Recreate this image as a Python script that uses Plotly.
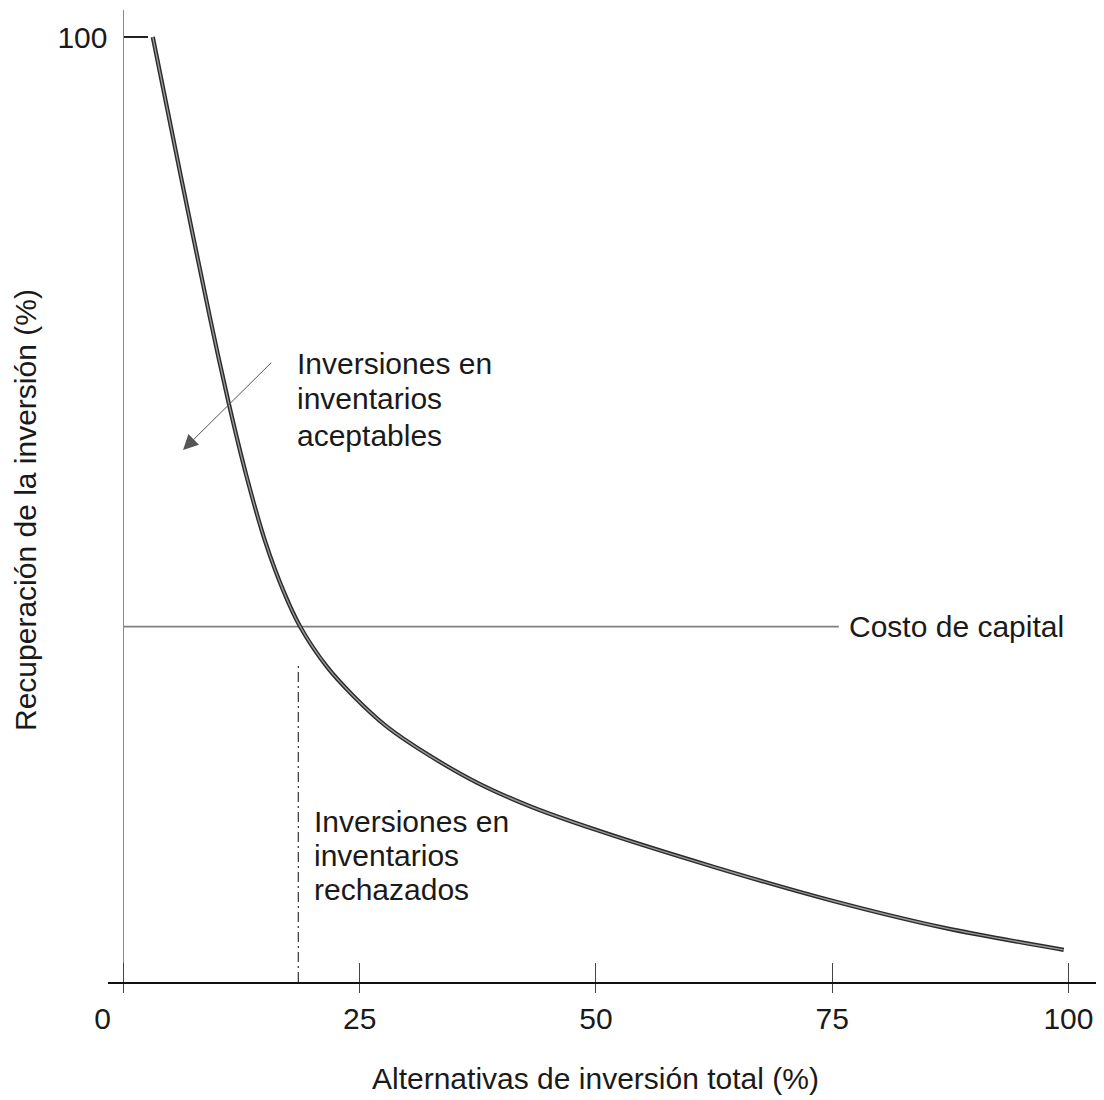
import plotly.graph_objects as go

# ---- data ----
curve_x = [3.1, 6.0, 9.15, 11.1, 13.0, 15.0, 17.0, 18.7, 21.5, 24.3, 27.9, 32.0, 37.4, 43.0, 50.0, 62.4, 75.0, 87.0, 99.5]
curve_y = [100.0, 85.6, 70.3, 61.4, 53.6, 46.6, 41.2, 37.6, 33.4, 30.3, 27.0, 24.2, 21.1, 18.6, 16.1, 12.2, 8.6, 5.7, 3.4]

cost_of_capital = 37.6          # horizontal line level
cost_line_end = 75.7            # where the cost line stops
cutoff_x = 18.5                 # vertical dashed line
cutoff_top = 33.8

x_tickvals = [0, 25, 50, 75, 100]
x_ticktext = ["0\u00a0\u00a0\u00a0\u00a0\u00a0", "25", "50", "75", "100"]
y_tickvals = [100]
y_ticktext = ["100"]

x_title = "Alternativas de inversión total (%)"
y_title = "Recuperación de la inversión (%)"
label_cost = "Costo de capital"
label_accept = ["Inversiones en", "inventarios", "aceptables"]
label_reject = ["Inversiones en", "inventarios", "rechazados"]

# positions (data coords) for labels / arrow
accept_x, accept_y = 18.2, [65.4, 61.7, 57.8]
reject_x, reject_y = 20.0, [17.0, 13.4, 9.8]
cost_label_x = 76.6
arrow_tail = (15.8, 65.7)
arrow_head = (6.3, 56.3)

FONT = "Liberation Sans, Arial, Helvetica, sans-serif"
TXT = "#1a1a1a"
FS = 30

X_RANGE = [-1.64, 103.76]
Y_RANGE = [0, 102.86]

fig = go.Figure()

# cost of capital line
fig.add_trace(go.Scatter(x=[0, cost_line_end], y=[cost_of_capital, cost_of_capital],
                         mode="lines", line=dict(color="#7f7f7f", width=1.8),
                         hoverinfo="skip", showlegend=False))
# cutoff dashed line
fig.add_trace(go.Scatter(x=[cutoff_x, cutoff_x], y=[0, cutoff_top],
                         mode="lines", line=dict(color="#333333", width=1.2, dash="10px,4px,2px,4px"),
                         hoverinfo="skip", showlegend=False))
# curve (dark outline + lighter core)
fig.add_trace(go.Scatter(x=curve_x, y=curve_y, mode="lines",
                         line=dict(color="#2a2a2a", width=4.2, shape="spline", smoothing=0.8),
                         hoverinfo="skip", showlegend=False))
fig.add_trace(go.Scatter(x=curve_x, y=curve_y, mode="lines",
                         line=dict(color="#9a9a9a", width=1.4, shape="spline", smoothing=0.8),
                         hoverinfo="skip", showlegend=False))
# invisible trace to activate secondary x axis (inner ticks)
fig.add_trace(go.Scatter(x=[50], y=[50], xaxis="x2", mode="markers",
                         marker=dict(opacity=0), hoverinfo="skip", showlegend=False))

annotations = []
for txt, yy in zip(label_accept, accept_y):
    annotations.append(dict(x=accept_x, y=yy, xref="x", yref="y", text=txt, showarrow=False,
                            xanchor="left", yanchor="middle", font=dict(family=FONT, size=FS, color=TXT)))
for txt, yy in zip(label_reject, reject_y):
    annotations.append(dict(x=reject_x, y=yy, xref="x", yref="y", text=txt, showarrow=False,
                            xanchor="left", yanchor="middle", font=dict(family=FONT, size=FS, color=TXT)))
annotations.append(dict(x=cost_label_x, y=cost_of_capital, xref="x", yref="y", text=label_cost,
                        showarrow=False, xanchor="left", yanchor="middle",
                        font=dict(family=FONT, size=FS, color=TXT)))
# arrow
annotations.append(dict(x=arrow_head[0], y=arrow_head[1], ax=arrow_tail[0], ay=arrow_tail[1],
                        xref="x", yref="y", axref="x", ayref="y", text="", showarrow=True,
                        arrowhead=2, arrowsize=3, arrowwidth=1, arrowcolor="#555555"))
# axis titles
annotations.append(dict(x=(595 - 108) / 996, y=(982 - 1078) / 972, xref="paper", yref="paper",
                        text=x_title, showarrow=False, xanchor="center", yanchor="middle",
                        font=dict(family=FONT, size=FS, color=TXT)))
annotations.append(dict(x=(25 - 108) / 996, y=(982 - 510) / 972, xref="paper", yref="paper",
                        text=y_title, showarrow=False, textangle=-90, xanchor="center", yanchor="middle",
                        font=dict(family=FONT, size=FS, color=TXT)))

fig.update_layout(
    width=1096, height=1092,
    margin=dict(l=100, r=0, t=2, b=118),
    paper_bgcolor="white", plot_bgcolor="white",
    font=dict(family=FONT, size=FS, color=TXT),
    xaxis=dict(range=X_RANGE, showgrid=False, zeroline=False,
               showline=True, linecolor="#111111", linewidth=1.5,
               ticks="outside", ticklen=9, tickwidth=1.2, tickcolor="#444444",
               tickvals=x_tickvals, ticktext=x_ticktext,
               tickfont=dict(family=FONT, size=FS, color=TXT), ticklabelstandoff=0),
    xaxis2=dict(range=X_RANGE, overlaying="x", anchor="y", side="bottom",
                showgrid=False, zeroline=False, showline=False, showticklabels=False,
                ticks="inside", ticklen=19, tickwidth=1.2, tickcolor="#444444",
                tickvals=x_tickvals),
    yaxis=dict(range=Y_RANGE, showgrid=False, zeroline=False,
               anchor="free", position=1.64 / 105.4,
               showline=True, linecolor="#8a8a8a", linewidth=1,
               ticks="inside", ticklen=24, tickwidth=1.5, tickcolor="#222222",
               tickvals=y_tickvals, ticktext=y_ticktext,
               tickfont=dict(family=FONT, size=FS, color=TXT), ticklabelstandoff=10),
    annotations=annotations,
    showlegend=False,
)

fig.write_html("out.html")
